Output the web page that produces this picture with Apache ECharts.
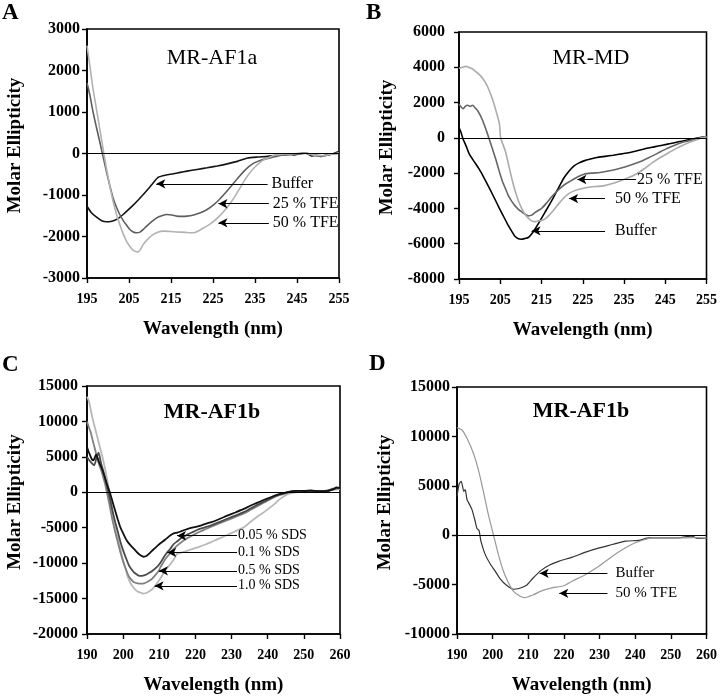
<!DOCTYPE html>
<html>
<head>
<meta charset="utf-8">
<script src="https://cdn.jsdelivr.net/npm/echarts@6/dist/echarts.min.js"></script>
<style>
  html, body { margin: 0; padding: 0; background: #fff; }
  #chart { width: 720px; height: 696px; }
</style>
</head>
<body>
<div id="chart"></div>
<script>
// ---- panel A: MR-AF1a ----
var aBuffer = [[195,-1270],[196,-1420],[197.2,-1530],[198.5,-1620],[199.6,-1645],[200.6,-1640],[201.6,-1610],[202.6,-1550],[203.6,-1470],[204.8,-1360],[206,-1245],[207.2,-1120],[208.4,-990],[209.6,-850],[210.8,-705],[212,-570],[213.8,-520],[215.6,-490],[217.2,-455],[218.8,-425],[221.2,-385],[223.6,-345],[226,-300],[228.4,-250],[230.8,-190],[233.2,-110],[235.6,-85],[238,-70],[240,-45],[242,-30],[243.5,-20],[244.4,-35],[245.5,-10],[246.8,15],[247.6,-10],[248.4,-60],[249.5,-45],[250.8,-70],[252,-40],[253.2,-20],[254.2,20],[254.8,40],[255,10]];
var aTfe25 = [[195,1700],[195.7,1400],[196.4,1020],[197.2,650],[198,300],[198.8,-60],[199.6,-425],[200.4,-760],[201.2,-1070],[202,-1290],[202.8,-1470],[203.6,-1610],[204.4,-1725],[205.2,-1830],[206,-1890],[206.8,-1910],[207.6,-1895],[208.4,-1830],[209.2,-1750],[210.4,-1640],[211.6,-1550],[212.8,-1500],[214,-1470],[215.2,-1480],[216.4,-1510],[217.6,-1515],[218.8,-1510],[220.4,-1480],[222,-1430],[223.6,-1350],[225.2,-1230],[226.4,-1120],[227.6,-990],[228.8,-850],[230,-705],[231.2,-560],[232.4,-425],[233.6,-310],[234.8,-225],[236.4,-160],[238,-120],[239.6,-80],[241.2,-40],[243,-20],[245,-10],[247,10],[249,-40],[251,-60],[253,-20],[255,10]];
var aTfe50 = [[195,2600],[195.7,2100],[196.4,1580],[197.2,1100],[198,620],[198.8,130],[199.6,-345],[200.4,-760],[201.2,-1150],[202,-1450],[202.8,-1710],[203.6,-1930],[204.4,-2110],[205.2,-2240],[206,-2335],[206.6,-2360],[207.2,-2370],[207.8,-2300],[208.4,-2190],[209.6,-2050],[210.8,-1950],[212,-1890],[213.2,-1870],[214.8,-1880],[216.4,-1890],[218.4,-1900],[220.4,-1910],[221.6,-1860],[222.8,-1790],[224,-1720],[225.2,-1630],[226.4,-1520],[227.6,-1390],[228.8,-1240],[230,-1070],[231.2,-870],[232.4,-665],[233.6,-490],[234.8,-345],[236,-230],[237.2,-145],[238.4,-90],[239.6,-40],[241,-20],[243,-10],[245,0],[247,10],[249,-40],[251,-50],[253,-20],[255,10]];
// label, arrow head x, tail x, y
var aNotes = [['Buffer',211.5,238,-730],['25 % TFE',226.3,238.3,-1210],['50 % TFE',226.3,238.3,-1670]];

// ---- panel B: MR-MD ----
var bBuffer = [[195,600],[195.5,300],[196,-75],[196.8,-500],[197.5,-925],[198.7,-1350],[199.9,-1775],[201.1,-2280],[202.3,-2815],[203.5,-3380],[204.7,-3950],[205.9,-4500],[207,-4990],[207.8,-5300],[208.6,-5595],[209.4,-5720],[210.2,-5745],[211,-5700],[211.8,-5650],[212.6,-5450],[213.4,-5180],[214.6,-4720],[215.8,-4235],[217,-3760],[218.1,-3290],[219.3,-2760],[220.5,-2250],[221.7,-1880],[222.9,-1590],[224.1,-1420],[225.3,-1305],[226.9,-1200],[228.4,-1115],[230.4,-1050],[232.4,-985],[234.4,-910],[236.4,-830],[238.4,-720],[240.3,-605],[242.3,-510],[244.3,-415],[246.3,-320],[248.2,-225],[249.8,-150],[251.4,-75],[253.2,0],[255,55]];
var bTfe25 = [[195,1900],[195.5,1750],[196,1650],[196.5,1780],[197.1,1850],[197.7,1780],[198.3,1850],[198.9,1700],[199.5,1550],[200.1,1300],[200.7,1000],[201.5,500],[202.3,-50],[203.1,-620],[203.9,-1200],[204.7,-1850],[205.5,-2440],[206.3,-2900],[207,-3290],[207.8,-3600],[208.6,-3855],[209.4,-4050],[210.2,-4195],[211,-4330],[211.8,-4420],[212.6,-4380],[213.4,-4235],[214.2,-4120],[215,-4005],[216.2,-3700],[217.3,-3380],[218.5,-3080],[219.7,-2815],[220.9,-2600],[222.1,-2440],[223.7,-2220],[225.3,-2060],[227.2,-2000],[229.2,-1965],[231.2,-1880],[233.2,-1775],[235.2,-1650],[237.2,-1495],[239.2,-1320],[241.1,-1115],[243.1,-880],[245.1,-640],[247,-450],[249,-265],[250.6,-170],[252.2,-75],[253.6,0],[255,55]];
var bTfe50 = [[195,3950],[195.8,4000],[196.7,4050],[197.5,3980],[198.3,3900],[199.1,3750],[199.9,3600],[200.7,3380],[201.5,3100],[202.3,2700],[203.1,2200],[203.7,1750],[204.3,1250],[204.8,800],[205.1,0],[205.7,-400],[206.3,-800],[207,-1500],[207.8,-2300],[208.6,-3000],[209.4,-3570],[210.2,-4000],[211,-4330],[211.8,-4550],[212.6,-4705],[213.4,-4750],[214.2,-4705],[215,-4680],[215.8,-4610],[217,-4350],[218.1,-4045],[219.3,-3700],[220.5,-3380],[221.7,-3150],[222.9,-3005],[224.5,-2900],[226.1,-2815],[228,-2760],[230,-2720],[232,-2600],[234,-2440],[236,-2260],[237.9,-2060],[239.9,-1750],[241.9,-1400],[243.9,-1100],[245.9,-830],[247.8,-580],[249.8,-360],[251.4,-200],[253,-75],[255,55]];
var bNotes = [['25 % TFE',223.7,237.9,-2360,1],['50 % TFE',221.7,230.4,-3440,10],['Buffer',212.6,230.4,-5270,10]];

// ---- panel C: MR-AF1b in SDS ----
var cSds005 = [[190,6400],[190.4,5800],[190.8,5300],[191.2,4800],[191.6,4500],[192,4700],[192.5,5300],[192.9,4900],[193.3,4300],[193.9,3600],[194.5,2800],[195,2000],[195.5,1200],[196,450],[196.5,-300],[197.1,-1400],[197.8,-2600],[198.5,-3800],[199.2,-4900],[200.1,-5900],[201,-6800],[202,-7450],[203,-8000],[203.9,-8500],[204.8,-8900],[205.7,-9100],[206.4,-9000],[207.1,-8700],[207.8,-8350],[208.5,-8000],[209.4,-7600],[210.3,-7200],[211.6,-6700],[213,-6100],[214,-5800],[215,-5700],[216.3,-5450],[217.7,-5200],[219.5,-4950],[221.4,-4700],[222.8,-4450],[224.2,-4250],[226.5,-3800],[228.8,-3300],[231,-2850],[233.4,-2350],[235.2,-1900],[237,-1500],[239,-1050],[240.8,-700],[243,-300],[245.4,0],[248,200],[250,180],[252,250],[254,150],[256,150],[258.3,450],[259,700],[260,600]];
var cSds01 = [[190,5000],[190.5,4600],[191,4300],[191.5,4000],[192,3800],[192.6,4800],[193.2,5600],[193.6,4800],[194,3900],[194.5,3000],[195,2000],[195.5,900],[196,-200],[196.5,-1300],[197,-2500],[197.7,-4000],[198.5,-5500],[199.2,-6900],[200,-8200],[200.8,-9300],[201.5,-10200],[202.2,-10800],[203,-11300],[203.8,-11600],[204.5,-11800],[205.2,-11800],[206,-11700],[206.8,-11500],[207.5,-11300],[208.3,-11000],[209,-10700],[209.8,-10300],[210.5,-9800],[211.2,-9200],[212,-8600],[213,-8000],[214,-7300],[215,-6900],[216,-6500],[217,-6200],[218,-5900],[219.5,-5550],[221,-5200],[222.6,-4950],[224.2,-4700],[226.6,-4200],[229,-3700],[231.2,-3250],[233.4,-2800],[235.2,-2300],[237,-1800],[239,-1300],[241,-800],[242.5,-450],[244,-200],[246,100],[248,200],[250,200],[252.5,150],[255,150],[257,300],[258,500],[260,700]];
var cSds05 = [[190,10000],[190.5,9200],[191,8500],[191.5,7500],[192,6500],[192.5,5500],[193,4500],[193.5,3700],[194,3000],[194.5,2100],[195,1200],[195.5,0],[196,-1200],[196.5,-2500],[197,-3800],[197.7,-5400],[198.5,-7000],[199.2,-8400],[200,-9800],[200.8,-10900],[201.5,-11800],[202.2,-12300],[203,-12700],[204,-12850],[205,-12900],[205.8,-12850],[206.5,-12700],[207.2,-12500],[208,-12200],[208.9,-11700],[209.8,-11100],[210.4,-10500],[211,-10000],[211.7,-9400],[212.5,-8900],[213.3,-8400],[214,-8000],[215,-7500],[216,-7100],[217,-6700],[218,-6400],[219.5,-6000],[221,-5600],[222.6,-5250],[224.2,-4900],[226.6,-4400],[229,-3900],[231.2,-3450],[233.4,-3000],[235.2,-2500],[237,-2000],[239,-1450],[241,-900],[242.5,-550],[244,-300],[246,0],[248,100],[250,150],[252.5,100],[255,100],[257,250],[258,400],[260,600]];
var cSds10 = [[190,13500],[190.4,13000],[190.7,12500],[191.1,11500],[191.5,10500],[192,9500],[192.5,8500],[193,7500],[193.5,6500],[194,5500],[194.5,4500],[195,3300],[195.5,2000],[196,500],[196.5,-1000],[197,-2500],[197.5,-4000],[198.2,-5800],[199,-7500],[199.7,-9000],[200.5,-10500],[201.2,-11800],[202,-12800],[202.8,-13400],[203.5,-13800],[204.2,-14050],[205,-14200],[205.6,-14300],[206.2,-14250],[206.8,-14100],[207.5,-13900],[208.2,-13600],[208.9,-13200],[209.7,-12600],[210.5,-12000],[211.2,-11400],[212,-10800],[213,-10200],[214,-9500],[214.9,-8700],[216.4,-8450],[218,-8200],[219.5,-7950],[221,-7700],[222.6,-7400],[224.2,-7070],[226,-6650],[228,-6200],[230.6,-5600],[233.4,-4950],[235.2,-4200],[237,-3500],[239,-2800],[240.8,-2100],[242,-1600],[243,-1100],[244.2,-650],[245.4,-300],[246.8,-100],[248,0],[250,100],[252,150],[254,100],[256,200],[258,350],[260,500]];
var cNotes = [['0.05 % SDS',214.9,231.5,-6130],['0.1 % SDS',212.2,231.5,-8490],['0.5 % SDS',209.9,231.5,-11080],['1.0 % SDS',208.7,231.5,-13200]];

// ---- panel D: MR-AF1b in TFE ----
var dBuffer = [[190,3930],[190.6,5180],[191.2,5450],[191.9,4440],[192.3,4610],[192.8,3600],[193.2,3330],[194.2,2590],[195.1,1410],[195.6,670],[196.2,470],[196.7,-600],[197.9,-1940],[199.3,-2890],[200.7,-3630],[202,-4360],[203.9,-5070],[205.8,-5470],[207.6,-5370],[209.5,-5070],[211.3,-4360],[213.6,-3560],[216,-3020],[218.7,-2620],[222.4,-2220],[226.1,-1710],[229.9,-1280],[233.6,-940],[237.3,-600],[241,-530],[243.8,-280],[246.5,-280],[251.2,-280],[255.8,-100],[257.7,-330],[260,-330]];
var dTfe50 = [[190,10890],[191.4,10650],[192.8,9810],[194.6,8300],[196,6620],[197.4,4440],[198.8,2080],[200.2,70],[201.6,-1950],[203,-3630],[204.4,-4800],[205.8,-5650],[207.6,-6150],[209,-6320],[211.3,-6050],[214.1,-5580],[216.9,-5310],[219.7,-5140],[222.4,-4640],[226.1,-3970],[229.9,-3120],[233.6,-2120],[237.3,-1280],[240,-770],[242.8,-440],[244.7,-270],[248,-280],[252,-280],[256,-250],[260,-300]];
var dNotes = [['Buffer',213.2,232.2,-3860],['50 % TFE',218.7,232.2,-5880]];

var SERIF = 'Liberation Serif, Times New Roman, serif';

var panels = [
  { grid: { left: 87, top: 29, width: 252, height: 249 }, x: [195, 255], y: [-3000, 3000, 1000], yMargin: 7,
    lines: [[aBuffer, '#141414', 1.6], [aTfe25, '#5e5e5e', 1.6], [aTfe50, '#b2b2b2', 1.6]],
    notes: aNotes, noteSize: 16, noteGap: 4 },
  { grid: { left: 459, top: 32, width: 253, height: 247 }, x: [195, 255], y: [-8000, 6000, 2000], yMargin: 14,
    lines: [[bBuffer, '#000000', 1.6], [bTfe25, '#666666', 1.6], [bTfe50, '#ababab', 1.6]],
    notes: bNotes, noteSize: 16, noteGap: 5 },
  { grid: { left: 87, top: 386, width: 253, height: 248 }, x: [190, 260], y: [-20000, 15000, 5000], yMargin: 9,
    lines: [[cSds10, '#b8b8b8', 1.8], [cSds05, '#808080', 1.8], [cSds01, '#4a4a4a', 1.8], [cSds005, '#111111', 1.8]],
    notes: cNotes, noteSize: 14, noteGap: 1 },
  { grid: { left: 457, top: 387, width: 252, height: 248 }, x: [190, 260], y: [-10000, 15000, 5000], yMargin: 7,
    lines: [[dBuffer, '#333333', 1.2], [dTfe50, '#999999', 1.2]],
    notes: dNotes, noteSize: 15, noteGap: 8 }
];

function plain(v) { return String(v); }

var grids = [], xAxes = [], yAxes = [], series = [];
panels.forEach(function (p, i) {
  grids.push(Object.assign({ show: true, borderColor: '#000', borderWidth: 1.6 }, p.grid));
  xAxes.push({
    type: 'value', gridIndex: i, min: p.x[0], max: p.x[1], interval: 10,
    name: 'Wavelength (nm)', nameLocation: 'middle', nameGap: 42,
    nameTextStyle: { fontFamily: SERIF, fontWeight: 'bold', fontSize: 19, color: '#000' },
    axisLine: { onZero: false, lineStyle: { color: '#000', width: 1.6 } },
    axisTick: { length: 5, lineStyle: { color: '#000', width: 1.4 } },
    axisLabel: { margin: 14, formatter: plain, fontFamily: SERIF, fontWeight: 'bold', fontSize: 14, color: '#000' },
    splitLine: { show: false }
  });
  yAxes.push({
    type: 'value', gridIndex: i, min: p.y[0], max: p.y[1], interval: p.y[2],
    name: 'Molar Ellipticity', nameLocation: 'middle', nameGap: 62,
    nameTextStyle: { fontFamily: SERIF, fontWeight: 'bold', fontSize: 19, color: '#000', padding: [0, 0, 0, 16] },
    axisLine: { onZero: false, lineStyle: { color: '#000', width: 1.6 } },
    axisTick: { length: 5, lineStyle: { color: '#000', width: 1.4 } },
    axisLabel: { margin: p.yMargin, formatter: plain, fontFamily: SERIF, fontWeight: 'bold', fontSize: 16, color: '#000' },
    splitLine: { show: false }
  });

  // zero line plus arrow annotations
  var ml = [{ yAxis: 0, lineStyle: { color: '#000', width: 1.2 }, label: { show: false } }];
  p.notes.forEach(function (n) {
    ml.push([
      { coord: [n[1], n[3]], symbol: 'arrow', symbolSize: [7, 9] },
      { coord: [n[2], n[3]], symbol: 'none',
        label: { show: true, position: 'end', formatter: n[0], distance: n[4] != null ? n[4] : p.noteGap,
                 fontFamily: SERIF, fontSize: p.noteSize, color: '#000' } }
    ]);
  });

  p.lines.forEach(function (l, k) {
    var s = {
      type: 'line', xAxisIndex: i, yAxisIndex: i, data: l[0], showSymbol: false, symbol: 'none',
      smooth: 0.2, lineStyle: { color: l[1], width: l[2] }, z: 2 + k
    };
    if (k === p.lines.length - 1) {
      s.markLine = { silent: true, symbol: 'none', animation: false, data: ml, z: 10,
                     lineStyle: { color: '#000', width: 1.2, type: 'solid' }, label: { show: false } };
    }
    series.push(s);
  });
});

function txt(x, y, text, size, weight, align) {
  return { type: 'text', x: x, y: y, style: { text: text, fill: '#000', align: align || 'center',
           verticalAlign: 'middle', font: weight + ' ' + size + 'px ' + SERIF } };
}

var chart = echarts.init(document.getElementById('chart'), null, { renderer: 'canvas' });
chart.setOption({
  animation: false,
  backgroundColor: '#fff',
  grid: grids,
  xAxis: xAxes,
  yAxis: yAxes,
  series: series,
  graphic: [
    txt(2, 13, 'A', 23, 'bold', 'left'),
    txt(366, 13, 'B', 23, 'bold', 'left'),
    txt(2, 365, 'C', 23, 'bold', 'left'),
    txt(369, 364, 'D', 23, 'bold', 'left'),
    txt(212, 58, 'MR-AF1a', 22, 'normal'),
    txt(591, 58, 'MR-MD', 22, 'normal'),
    txt(212, 412, 'MR-AF1b', 22, 'bold'),
    txt(581, 411, 'MR-AF1b', 22, 'bold')
  ]
});
</script>
</body>
</html>
